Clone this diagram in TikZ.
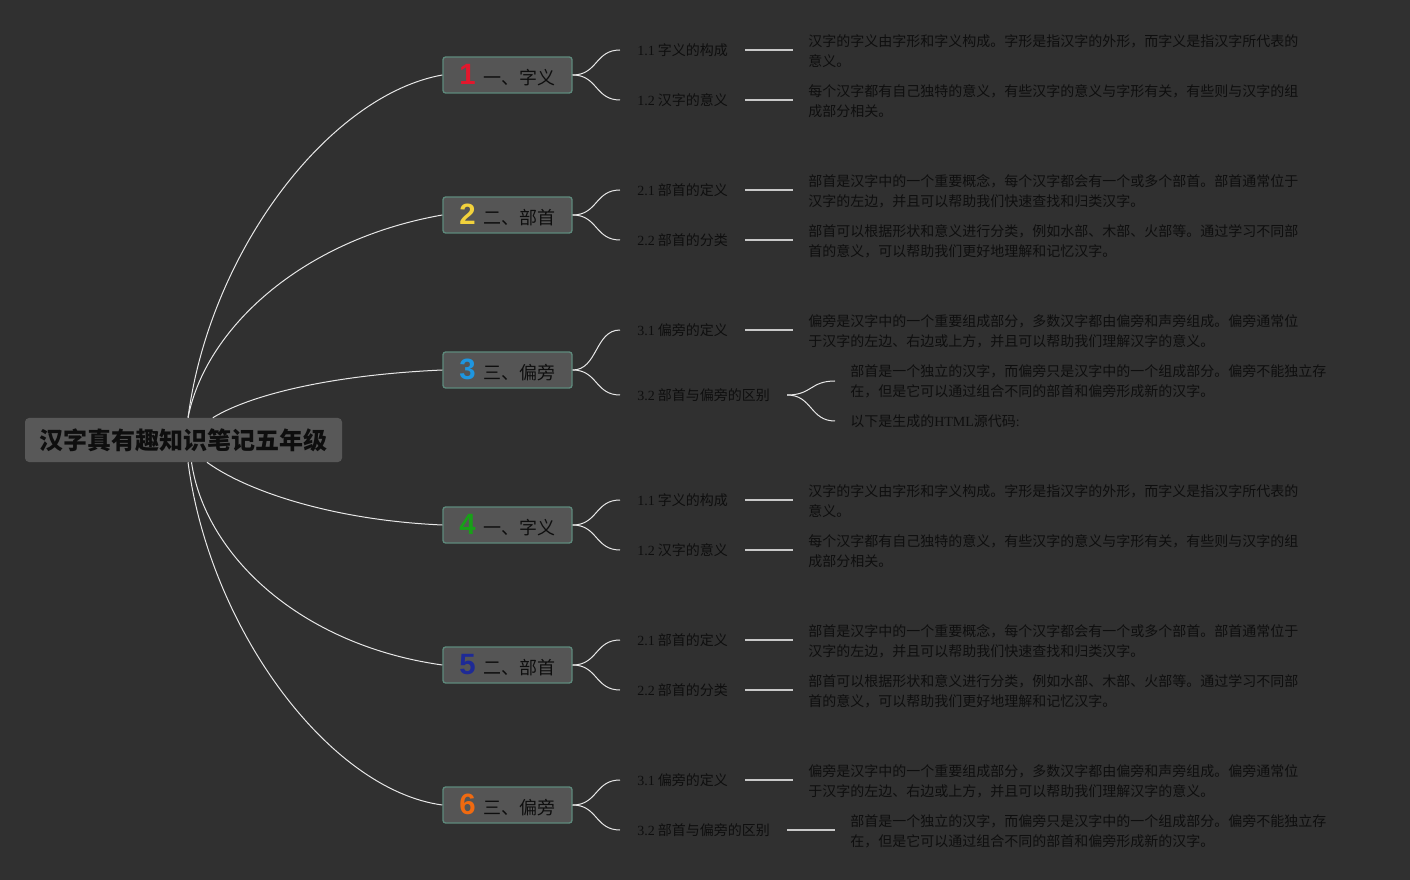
\documentclass[tikz,border=0pt]{standalone}
\usepackage{fontspec}
\setmainfont{Noto Sans CJK SC}
\newfontfamily\latinserif{Liberation Serif}
\newfontfamily\numfont{Liberation Sans}[BoldFont={Liberation Sans Bold}]
\definecolor{bgc}{HTML}{303030}
\definecolor{rootfill}{HTML}{585858}
\definecolor{topicfill}{HTML}{555555}
\definecolor{topicedge}{HTML}{5E8A7C}
\definecolor{txt}{HTML}{0E0E0E}
\definecolor{linec}{HTML}{E8E8E8}
\definecolor{hlinec}{HTML}{C8C8C8}
\definecolor{n1}{HTML}{E3172D}
\definecolor{n2}{HTML}{F2D23C}
\definecolor{n3}{HTML}{1E96E0}
\definecolor{n4}{HTML}{18A018}
\definecolor{n5}{HTML}{1E2A96}
\definecolor{n6}{HTML}{F06A10}
\newcommand\tnum[2]{{\numfont\bfseries\fontsize{22}{24}\selectfont\color{#1}#2}\hspace{6pt}}
\newcommand\sn[1]{{\latinserif #1}}
\begin{document}
\begin{tikzpicture}[x=0.75pt,y=-0.75pt,
  conn/.style={draw=linec, line width=0.75pt},
  hline/.style={draw=hlinec, line width=1.1pt},
  rootbox/.style={fill=rootfill, rounded corners=3pt, minimum width=237.75pt, minimum height=33pt, inner sep=0pt, font=\bfseries\fontsize{18}{20}\selectfont, text=txt},
  topicbox/.style={fill=topicfill, draw=topicedge, line width=1pt, rounded corners=2pt, minimum width=96.75pt, minimum height=27pt, inner sep=0pt, font=\fontsize{13.5}{15}\selectfont, text=txt},
  sublabel/.style={anchor=west, inner xsep=12.75pt, inner ysep=2pt, font=\fontsize{10.5}{12}\selectfont, text=txt},
  desc/.style={anchor=west, inner xsep=11.25pt, inner ysep=0pt, align=left, font=\fontsize{10.5}{15}\selectfont, text=txt}]
\fill[bgc] (0,0) rectangle (1410,880);
\useasboundingbox (0,0) rectangle (1410,880);

% root
\node[rootbox] (root) at (183.5,440) {汉字真有趣知识笔记五年级};

% topics
\node[topicbox] (t1) at (507.5,75) {\tnum{n1}{1}一、字义};
\node[topicbox] (t2) at (507.5,215) {\tnum{n2}{2}二、部首};
\node[topicbox] (t3) at (507.5,370) {\tnum{n3}{3}三、偏旁};
\node[topicbox] (t4) at (507.5,525) {\tnum{n4}{4}一、字义};
\node[topicbox] (t5) at (507.5,665) {\tnum{n5}{5}二、部首};
\node[topicbox] (t6) at (507.5,805) {\tnum{n6}{6}三、偏旁};

% root connectors
\draw[conn] ([xshift=3.4pt]root.north) .. controls (210,250) and (330,95) .. (t1.west);
\draw[conn] ([xshift=3.4pt]root.north) .. controls (205,330) and (300,240) .. (t2.west);
\draw[conn] ([xshift=22pt]root.north) .. controls (250,395) and (330,375) .. (t3.west);
\draw[conn] ([xshift=17.6pt]root.south) .. controls (245,490) and (330,520) .. (t4.west);
\draw[conn] ([xshift=6pt]root.south) .. controls (205,555) and (300,645) .. (t5.west);
\draw[conn] ([xshift=3.4pt]root.south) .. controls (210,630) and (330,790) .. (t6.west);

% sub labels
\node[sublabel] (s11) at (620,50) {\sn{1.1} 字义的构成};
\node[sublabel] (s12) at (620,100) {\sn{1.2} 汉字的意义};
\node[sublabel] (s21) at (620,190) {\sn{2.1} 部首的定义};
\node[sublabel] (s22) at (620,240) {\sn{2.2} 部首的分类};
\node[sublabel] (s31) at (620,330) {\sn{3.1} 偏旁的定义};
\node[sublabel] (s32) at (620,395) {\sn{3.2} 部首与偏旁的区别};
\node[sublabel] (s41) at (620,500) {\sn{1.1} 字义的构成};
\node[sublabel] (s42) at (620,550) {\sn{1.2} 汉字的意义};
\node[sublabel] (s51) at (620,640) {\sn{2.1} 部首的定义};
\node[sublabel] (s52) at (620,690) {\sn{2.2} 部首的分类};
\node[sublabel] (s61) at (620,780) {\sn{3.1} 偏旁的定义};
\node[sublabel] (s62) at (620,830) {\sn{3.2} 部首与偏旁的区别};

% descriptions
\node[desc] (d11) at (793,51) {汉字的字义由字形和字义构成。字形是指汉字的外形，而字义是指汉字所代表的\\意义。};
\node[desc] (d12) at (793,101) {每个汉字都有自己独特的意义，有些汉字的意义与字形有关，有些则与汉字的组\\成部分相关。};
\node[desc] (d21) at (793,191) {部首是汉字中的一个重要概念，每个汉字都会有一个或多个部首。部首通常位于\\汉字的左边，并且可以帮助我们快速查找和归类汉字。};
\node[desc] (d22) at (793,241) {部首可以根据形状和意义进行分类，例如水部、木部、火部等。通过学习不同部\\首的意义，可以帮助我们更好地理解和记忆汉字。};
\node[desc] (d31) at (793,331) {偏旁是汉字中的一个重要组成部分，多数汉字都由偏旁和声旁组成。偏旁通常位\\于汉字的左边、右边或上方，并且可以帮助我们理解汉字的意义。};
\node[desc] (d321) at (835,381) {部首是一个独立的汉字，而偏旁只是汉字中的一个组成部分。偏旁不能独立存\\在，但是它可以通过组合不同的部首和偏旁形成新的汉字。};
\node[desc] (d322) at (835,421) {以下是生成的\sn{HTML}源代码\sn{:}};
\node[desc] (d41) at (793,501) {汉字的字义由字形和字义构成。字形是指汉字的外形，而字义是指汉字所代表的\\意义。};
\node[desc] (d42) at (793,551) {每个汉字都有自己独特的意义，有些汉字的意义与字形有关，有些则与汉字的组\\成部分相关。};
\node[desc] (d51) at (793,641) {部首是汉字中的一个重要概念，每个汉字都会有一个或多个部首。部首通常位于\\汉字的左边，并且可以帮助我们快速查找和归类汉字。};
\node[desc] (d52) at (793,691) {部首可以根据形状和意义进行分类，例如水部、木部、火部等。通过学习不同部\\首的意义，可以帮助我们更好地理解和记忆汉字。};
\node[desc] (d61) at (793,781) {偏旁是汉字中的一个重要组成部分，多数汉字都由偏旁和声旁组成。偏旁通常位\\于汉字的左边、右边或上方，并且可以帮助我们理解汉字的意义。};
\node[desc] (d62) at (835,831) {部首是一个独立的汉字，而偏旁只是汉字中的一个组成部分。偏旁不能独立存\\在，但是它可以通过组合不同的部首和偏旁形成新的汉字。};

% topic -> sub connectors
\foreach \t/\a/\b in {t1/s11/s12, t2/s21/s22, t3/s31/s32, t4/s41/s42, t5/s51/s52, t6/s61/s62}{
  \draw[conn] (\t.east) .. controls +(25,0) and +(-25,0) .. (\a.west);
  \draw[conn] (\t.east) .. controls +(25,0) and +(-25,0) .. (\b.west);
}

% sub -> desc lines (horizontal)
\foreach \s/\d in {s11/d11, s12/d12, s21/d21, s22/d22, s31/d31, s41/d41, s42/d42, s51/d51, s52/d52, s61/d61, s62/d62}{
  \draw[hline] (\s.east) -- (\s.east -| \d.west);
}
\draw[conn] (s32.east) .. controls +(25,0) and +(-25,0) .. (d321.west);
\draw[conn] (s32.east) .. controls +(25,0) and +(-25,0) .. (d322.west);
\end{tikzpicture}
\end{document}
